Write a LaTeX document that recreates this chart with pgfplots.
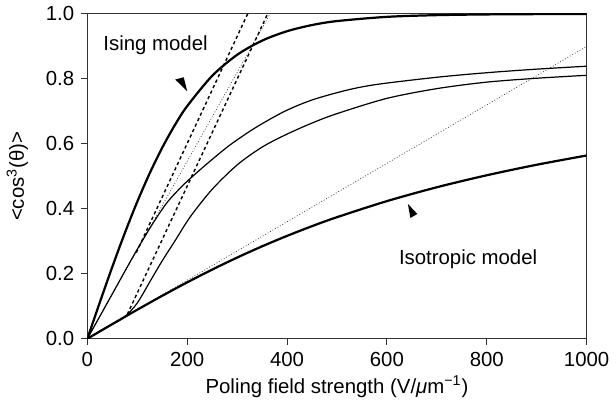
\documentclass[border=0pt]{standalone}
\usepackage{pgfplots}
\pgfplotsset{compat=1.18}
\usepackage{fontspec}
\setmainfont{Liberation Sans}

\newcommand\figfont{\fontsize{10.1}{12}\selectfont}

% Ising model: <cos^3> = tanh(x)
\pgfplotstableread{
E     c
0     0
25    0.1120
50    0.2213
75    0.3252
100   0.4219
125   0.5098
150   0.5883
175   0.6570
200   0.7163
250   0.8093
300   0.8741
350   0.9178
400   0.9468
450   0.9658
500   0.9780
600   0.9910
700   0.9963
800   0.9985
900   0.9994
1000  0.9998
}\tabIsing

% Isotropic model: third-order Langevin function
\pgfplotstableread{
E     c
0     0
50    0.0449
100   0.0892
150   0.1322
200   0.1735
250   0.2128
300   0.2498
350   0.2844
400   0.3166
450   0.3465
500   0.3742
600   0.4236
700   0.4663
800   0.5032
900   0.5356
1000  0.5641
}\tabIsotropic

% Intermediate cases
\pgfplotstableread{
E     c
0     0
50    0.138
95    0.262
130   0.352
160   0.420
190   0.470
216   0.507
250   0.552
287   0.598
337   0.650
395   0.700
450   0.735
519   0.765
580   0.783
700   0.805
800   0.819
900   0.830
1000  0.839
}\tabUpperMid

\pgfplotstableread{
E     c
0     0
40    0.036
75    0.068
100   0.110
125   0.175
150   0.240
175   0.300
206   0.375
250   0.460
300   0.535
350   0.590
400   0.630
450   0.664
500   0.693
600   0.740
700   0.770
800   0.790
900   0.802
1000  0.811
}\tabLowerMid

\begin{document}
\begin{tikzpicture}
\begin{axis}[
  scale only axis,
  width=247.5pt, height=161pt,
  xmin=0, xmax=1000, ymin=0, ymax=1,
  xtick={0,200,400,600,800,1000},
  ytick={0,0.2,0.4,0.6,0.8,1.0},
  tick pos=left,
  tick align=outside,
  major tick length=3pt,
  /pgf/number format/assume math mode=true,
  /pgf/number format/1000 sep={},
  yticklabel style={/pgf/number format/.cd, fixed, fixed zerofill, precision=1},
  ticklabel style={font=\figfont},
  label style={font=\figfont},
  axis line style={line width=0.5pt, black!80},
  every tick/.style={line width=0.5pt, black!80},
  xlabel={Poling field strength (V/\textit{μ}m\textsuperscript{−1})},
  ylabel={<cos\textsuperscript{3}(θ)>},
  ylabel style={at={(axis description cs:-0.14,0.5)}, anchor=center},
  xlabel style={yshift=2pt},
]
% low-field tangents
\addplot[black!75, line width=0.4pt, densely dotted] coordinates {(0,0) (1000,0.9)};
\addplot[black!75, line width=0.4pt, densely dotted] coordinates {(0,0) (366,1.0)};
\addplot[black, line width=0.7pt, dash pattern=on 1.6pt off 1.4pt] coordinates {(98,0.265) (321,1.0)};
\addplot[black, line width=0.7pt, dash pattern=on 1.6pt off 1.4pt] coordinates {(80,0.075) (361,1.0)};
% model curves
\addplot[black, line width=0.6pt, smooth] table {\tabUpperMid};
\addplot[black, line width=0.6pt, smooth] table {\tabLowerMid};
\addplot[black, line width=1.1pt, smooth] table {\tabIsing};
\addplot[black, line width=1.1pt, smooth] table {\tabIsotropic};
% labels and pointers
\node[anchor=base west, font=\figfont] at (axis cs:18,0.886) {Ising model};
\node[anchor=base west, font=\figfont] at (axis cs:610,0.23) {Isotropic model};
\fill[black] (axis cs:176,0.798) -- (axis cs:193,0.805) -- (axis cs:200,0.762) -- cycle;
\fill[black] (axis cs:642,0.415) -- (axis cs:647,0.372) -- (axis cs:661,0.384) -- cycle;
\end{axis}
\end{tikzpicture}
\end{document}
